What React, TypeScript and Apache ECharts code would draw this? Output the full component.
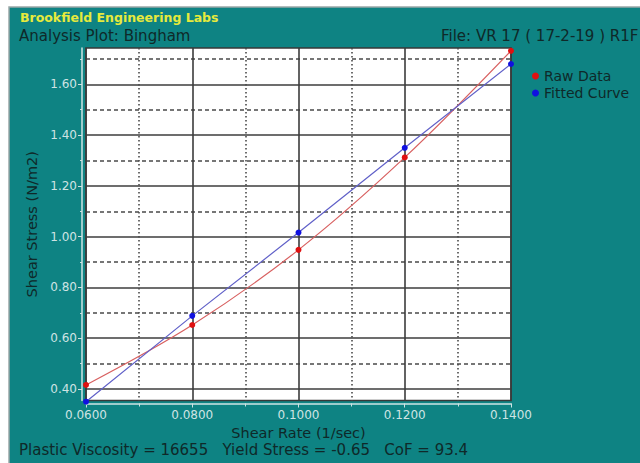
import React, { useEffect, useRef } from "react";
import * as echarts from "echarts";

const shearRate = [0.06, 0.08, 0.1, 0.12, 0.14];
const rawData = [0.416, 0.652, 0.948, 1.312, 1.732];
const fittedCurve = [0.35, 0.688, 1.016, 1.35, 1.68];
const yMajorTicks = [0.4, 0.6, 0.8, 1.0, 1.2, 1.4, 1.6];
const yMinorTicks = [0.5, 0.7, 0.9, 1.1, 1.3, 1.5, 1.7];
const xMajorTicks = [0.06, 0.08, 0.1, 0.12, 0.14];
const xMinorTicks = [0.07, 0.09, 0.11, 0.13];

const FONT = '"DejaVu Sans", Arial, sans-serif';
const TEAL = "#0e8383";
const DARK = "#0f2929";
const LIGHT = "#cfe3e3";

export default function App() {
  const ref = useRef<HTMLDivElement>(null);
  useEffect(() => {
    if (!ref.current) return;
    const chart = echarts.init(ref.current, null, { renderer: "svg" });
    const grid = { left: 86, right: 129, top: 48, bottom: 62.5 };
    chart.setOption({
      animation: false,
      backgroundColor: "#ffffff",
      textStyle: { fontFamily: FONT },
      grid: {
        ...grid,
        show: true,
        backgroundColor: "#ffffff",
        borderColor: "#383838",
        borderWidth: 1.6,
      },
      graphic: [
        {
          type: "rect",
          z: -10,
          silent: true,
          shape: { x: 9, y: 7, width: 640, height: 470 },
          style: { fill: TEAL, stroke: "#9aa8a8", lineWidth: 1.5 },
        },
        {
          type: "text",
          left: 20,
          top: 11,
          style: { text: "Brookfield Engineering Labs", fill: "#e6ea3c", font: `bold 12.5px ${FONT}` },
        },
        {
          type: "text",
          left: 19,
          top: 28,
          style: { text: "Analysis Plot: Bingham", fill: DARK, font: `15px ${FONT}` },
        },
        {
          type: "text",
          left: 441,
          top: 28,
          style: { text: "File: VR 17 ( 17-2-19 ) R1F", fill: DARK, font: `15px ${FONT}` },
        },
        {
          type: "text",
          left: 19,
          top: 442,
          style: {
            text: "Plastic Viscosity = 16655   Yield Stress = -0.65   CoF = 93.4",
            fill: DARK,
            font: `15px ${FONT}`,
          },
        },
      ],
      legend: {
        orient: "vertical",
        left: 527,
        top: 64,
        icon: "circle",
        itemWidth: 7,
        itemHeight: 7,
        itemGap: 3,
        textStyle: { color: DARK, fontSize: 14, fontFamily: FONT },
        data: ["Raw Data", "Fitted Curve"],
      },
      xAxis: [
        {
          type: "value",
          min: 0.06,
          max: 0.14,
          offset: 3,
          name: "Shear Rate (1/sec)",
          nameLocation: "middle",
          nameGap: 20,
          nameTextStyle: { color: DARK, fontSize: 14.5, fontFamily: FONT },
          axisLine: { show: true, lineStyle: { color: LIGHT, width: 1.5 } },
          axisTick: { show: true, length: 4, customValues: xMajorTicks, lineStyle: { color: LIGHT } },
          axisLabel: {
            customValues: xMajorTicks,
            color: LIGHT,
            fontSize: 12,
            margin: 5,
            formatter: (v: number) => v.toFixed(4),
          },
          splitLine: { show: true, lineStyle: { color: "#3c3c3c", width: 1.6 } },
        },
        {
          type: "value",
          min: 0.06,
          max: 0.14,
          position: "bottom",
          offset: 3,
          axisLine: { show: false },
          axisTick: { show: true, length: 3, customValues: xMinorTicks, lineStyle: { color: LIGHT } },
          axisLabel: { show: false, customValues: xMinorTicks },
          splitLine: { show: true, lineStyle: { color: "#4a4a4a", width: 1.6, type: [1.5, 2.5] } },
        },
      ],
      yAxis: [
        {
          type: "value",
          min: 0.3547,
          max: 1.743,
          offset: 4,
          name: "Shear Stress (N/m2)",
          nameLocation: "middle",
          nameGap: 41,
          nameTextStyle: { color: DARK, fontSize: 14.5, fontFamily: FONT },
          axisLine: { show: true, lineStyle: { color: LIGHT, width: 1.5 } },
          axisTick: { show: true, length: 4, customValues: yMajorTicks, lineStyle: { color: LIGHT } },
          axisLabel: {
            customValues: yMajorTicks,
            color: LIGHT,
            fontSize: 12,
            margin: 5,
            formatter: (v: number) => v.toFixed(2),
          },
          splitLine: { show: true, lineStyle: { color: "#3c3c3c", width: 1.6 } },
        },
        {
          type: "value",
          min: 0.3547,
          max: 1.743,
          position: "left",
          offset: 4,
          axisLine: { show: false },
          axisTick: { show: true, length: 2, customValues: yMinorTicks, lineStyle: { color: LIGHT } },
          axisLabel: { show: false, customValues: yMinorTicks },
          splitLine: { show: true, lineStyle: { color: "#4a4a4a", width: 1.6, type: [4, 3] } },
        },
      ],
      series: [
        {
          name: "Raw Data",
          type: "line",
          smooth: 0.35,
          clip: false,
          symbol: "circle",
          symbolSize: 6,
          itemStyle: { color: "#e01010" },
          lineStyle: { color: "#d86060", width: 1.2 },
          data: shearRate.map((x, i) => [x, rawData[i]]),
          z: 5,
        },
        {
          name: "Fitted Curve",
          type: "line",
          clip: false,
          symbol: "circle",
          symbolSize: 6,
          itemStyle: { color: "#1010e0" },
          lineStyle: { color: "#6060c8", width: 1.2 },
          data: shearRate.map((x, i) => [x, fittedCurve[i]]),
          z: 6,
        },
      ],
    });
    return () => chart.dispose();
  }, []);
  return (
    <div
      ref={ref}
      style={{ position: "absolute", left: 0, top: 0, width: 640, height: 463 }}
    />
  );
}
